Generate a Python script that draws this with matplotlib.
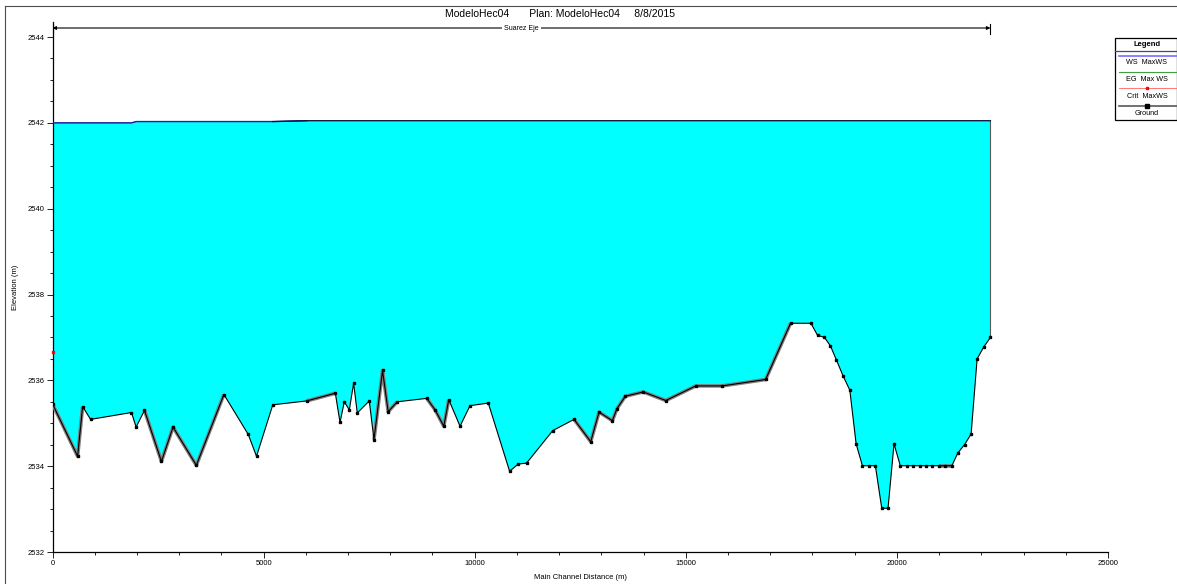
import numpy as np
import matplotlib
matplotlib.use("Agg")
import matplotlib.pyplot as plt
from matplotlib.lines import Line2D
from matplotlib.patches import Rectangle

plt.rcParams['font.family'] = ['Liberation Sans', 'DejaVu Sans']

# ground profile (main channel distance, elevation)
ground_x = [0, 595, 713, 902, 1871, 1980, 2179, 2580, 2855, 3407,
            4060, 4636, 4832, 5218, 6021, 6699, 6810, 6912, 7030, 7132,
            7219, 7503, 7614, 7817, 7951, 8164, 8866, 9069, 9268, 9386,
            9653, 9889, 10322, 10827, 11030, 11228, 11850, 12354, 12748, 12945,
            13261, 13370, 13568, 13993, 14527, 15236, 15860, 16891, 17481, 17963,
            18120, 18285, 18427, 18569, 18727, 18885, 19034, 19183, 19334, 19490,
            19641, 19790, 19932, 20080, 20232, 20388, 20539, 20688, 20837, 20990,
            21144, 21302, 21444, 21602, 21758, 21900, 22058, 22216]
ground_y = [2535.45, 2534.23, 2535.39, 2535.09, 2535.25, 2534.91, 2535.30, 2534.11, 2534.91, 2534.02,
            2535.67, 2534.74, 2534.23, 2535.43, 2535.52, 2535.70, 2535.02, 2535.50, 2535.31, 2535.93,
            2535.24, 2535.52, 2534.62, 2536.23, 2535.27, 2535.50, 2535.58, 2535.30, 2534.93, 2535.55,
            2534.93, 2535.41, 2535.47, 2533.88, 2534.05, 2534.07, 2534.83, 2535.09, 2534.57, 2535.26,
            2535.06, 2535.34, 2535.63, 2535.73, 2535.53, 2535.87, 2535.87, 2536.02, 2537.33, 2537.33,
            2537.05, 2537.00, 2536.80, 2536.47, 2536.10, 2535.77, 2534.52, 2534.01, 2534.01, 2534.01,
            2533.02, 2533.02, 2534.52, 2534.01, 2534.01, 2534.01, 2534.01, 2534.01, 2534.01, 2534.01,
            2534.01, 2534.01, 2534.31, 2534.50, 2534.75, 2536.50, 2536.78, 2537.00]

# index runs of ground drawn with grey overlay
gray_runs = [(0, 2), (6, 10), (14, 15), (22, 25), (26, 29), (37, 48), (69, 71)]

# water surface / energy grade
ws_x = [0, 1871, 1980, 5218, 6021, 22216]
ws_y = [2542.00, 2542.00, 2542.03, 2542.03, 2542.05, 2542.05]
eg_y = [2542.00, 2542.00, 2542.03, 2542.03, 2542.05, 2542.05]

crit_x = [0]
crit_y = [2536.65]

W, H = 1177, 584
fig = plt.figure(figsize=(W / 100, H / 100), dpi=100)

def fx(px):
    return px / W

def fy(py):
    return 1 - py / H

ax = fig.add_axes([fx(52.5), fy(552), fx(1108) - fx(52.5), fy(22) - fy(552)])

# water fill between WS and ground
poly_x = list(ws_x) + ground_x[::-1]
poly_y = list(ws_y) + ground_y[::-1]
ax.fill(poly_x, poly_y, color='#00FFFF', lw=0, zorder=1)
ax.plot([ws_x[-1], ground_x[-1]], [ws_y[-1], ground_y[-1]], color='0.35', lw=0.8, zorder=2)

ax.plot(ws_x, eg_y, color='#00A000', lw=0.6, zorder=3)
ax.plot(ws_x[:5], ws_y[:5], color='#2020B0', lw=1.0, zorder=3)
ax.plot(ws_x[3:], ws_y[3:], color='#101040', lw=0.9, zorder=3)

for a, b in gray_runs:
    ax.plot(ground_x[a:b + 1], ground_y[a:b + 1], color='#808080', lw=2.6,
            solid_capstyle='butt', zorder=4)
ax.plot(ground_x, ground_y, color='black', lw=0.8, marker='s', ms=1.7, zorder=5)
ax.plot(crit_x, crit_y, color='red', marker='s', ms=1.6, lw=0, zorder=6, clip_on=False)

ax.set_xlim(0, 25000)
ax.set_ylim(2532, 2544.35)
ax.set_xticks(np.arange(0, 25001, 5000))
ax.set_xticks(np.arange(0, 25001, 1000), minor=True)
ax.set_yticks(np.arange(2532, 2545, 2))
ax.set_yticks(np.arange(2532, 2544.1, 0.5), minor=True)
ax.tick_params(which='both', direction='out', labelsize=5.5, width=0.6, pad=2)
ax.tick_params(which='major', length=4)
ax.tick_params(which='minor', length=2.5)
for s in ['top', 'right']:
    ax.spines[s].set_visible(False)
for s in ['left', 'bottom']:
    ax.spines[s].set_linewidth(0.9)
ax.set_xlabel('Main Channel Distance (m)', fontsize=5.5, labelpad=5)
ax.set_ylabel('Elevation (m)', fontsize=5.5, labelpad=6)

# reach bracket
yb = 2544.21
ax.annotate('', xy=(ground_x[0], yb), xytext=(ground_x[-1], yb),
            arrowprops=dict(arrowstyle='<|-|>', color='black', lw=0.8,
                            mutation_scale=5, shrinkA=0, shrinkB=0))
ax.plot([ground_x[0], ground_x[0]], [yb - 0.12, yb + 0.1], color='black', lw=0.8)
ax.plot([ground_x[-1], ground_x[-1]], [yb - 0.15, yb + 0.1], color='black', lw=0.8)
ax.text((ground_x[0] + ground_x[-1]) / 2, yb, 'Suarez Eje', fontsize=5,
        ha='center', va='center', bbox=dict(facecolor='white', edgecolor='none', pad=1.5))

fig.text(fx(560), fy(14), 'ModeloHec04       Plan: ModeloHec04     8/8/2015',
         fontsize=7.5, ha='center', va='center')

# outer frame (left and top)
fig.add_artist(Line2D([fx(5), fx(5)], [0, fy(6)], color='0.3', lw=0.8))
fig.add_artist(Line2D([fx(5), 1], [fy(6), fy(6)], color='0.3', lw=0.8))

# legend box
fig.add_artist(Rectangle((fx(1115), fy(120)), fx(1177) - fx(1115), fy(38) - fy(120),
                         facecolor='white', edgecolor='black', lw=0.9))
lx0, lx1 = fx(1119), fx(1177)
lxc = fx(1147)
fig.text(lxc, fy(44.5), 'Legend', fontsize=5.5, weight='bold', ha='center', va='center')
fig.add_artist(Line2D([fx(1115), 1], [fy(51), fy(51)], color='0.3', lw=0.9))
fig.add_artist(Line2D([lx0, lx1], [fy(55.7), fy(55.7)], color='#7070FF', lw=1.2))
fig.text(lxc, fy(63), 'WS  MaxWS', fontsize=5.2, ha='center', va='center')
fig.add_artist(Line2D([lx0, lx1], [fy(71.7), fy(71.7)], color='#40A040', lw=0.8))
fig.text(lxc, fy(79.5), 'EG  Max WS', fontsize=5.2, ha='center', va='center')
fig.add_artist(Line2D([lx0, lx1], [fy(88), fy(88)], color='#FF6060', lw=0.6))
fig.add_artist(Line2D([lxc], [fy(88)], color='red', marker='s', ms=1.5, lw=0))
fig.text(lxc, fy(96), 'Crit  MaxWS', fontsize=5.2, ha='center', va='center')
fig.add_artist(Line2D([lx0, lx1], [fy(105.7), fy(105.7)], color='0.35', lw=1.2))
fig.add_artist(Line2D([lxc], [fy(105.7)], color='black', marker='s', ms=2.2, lw=0))
fig.text(lxc, fy(113), 'Ground', fontsize=5.2, ha='center', va='center')

fig.savefig('out.png', dpi=100)
